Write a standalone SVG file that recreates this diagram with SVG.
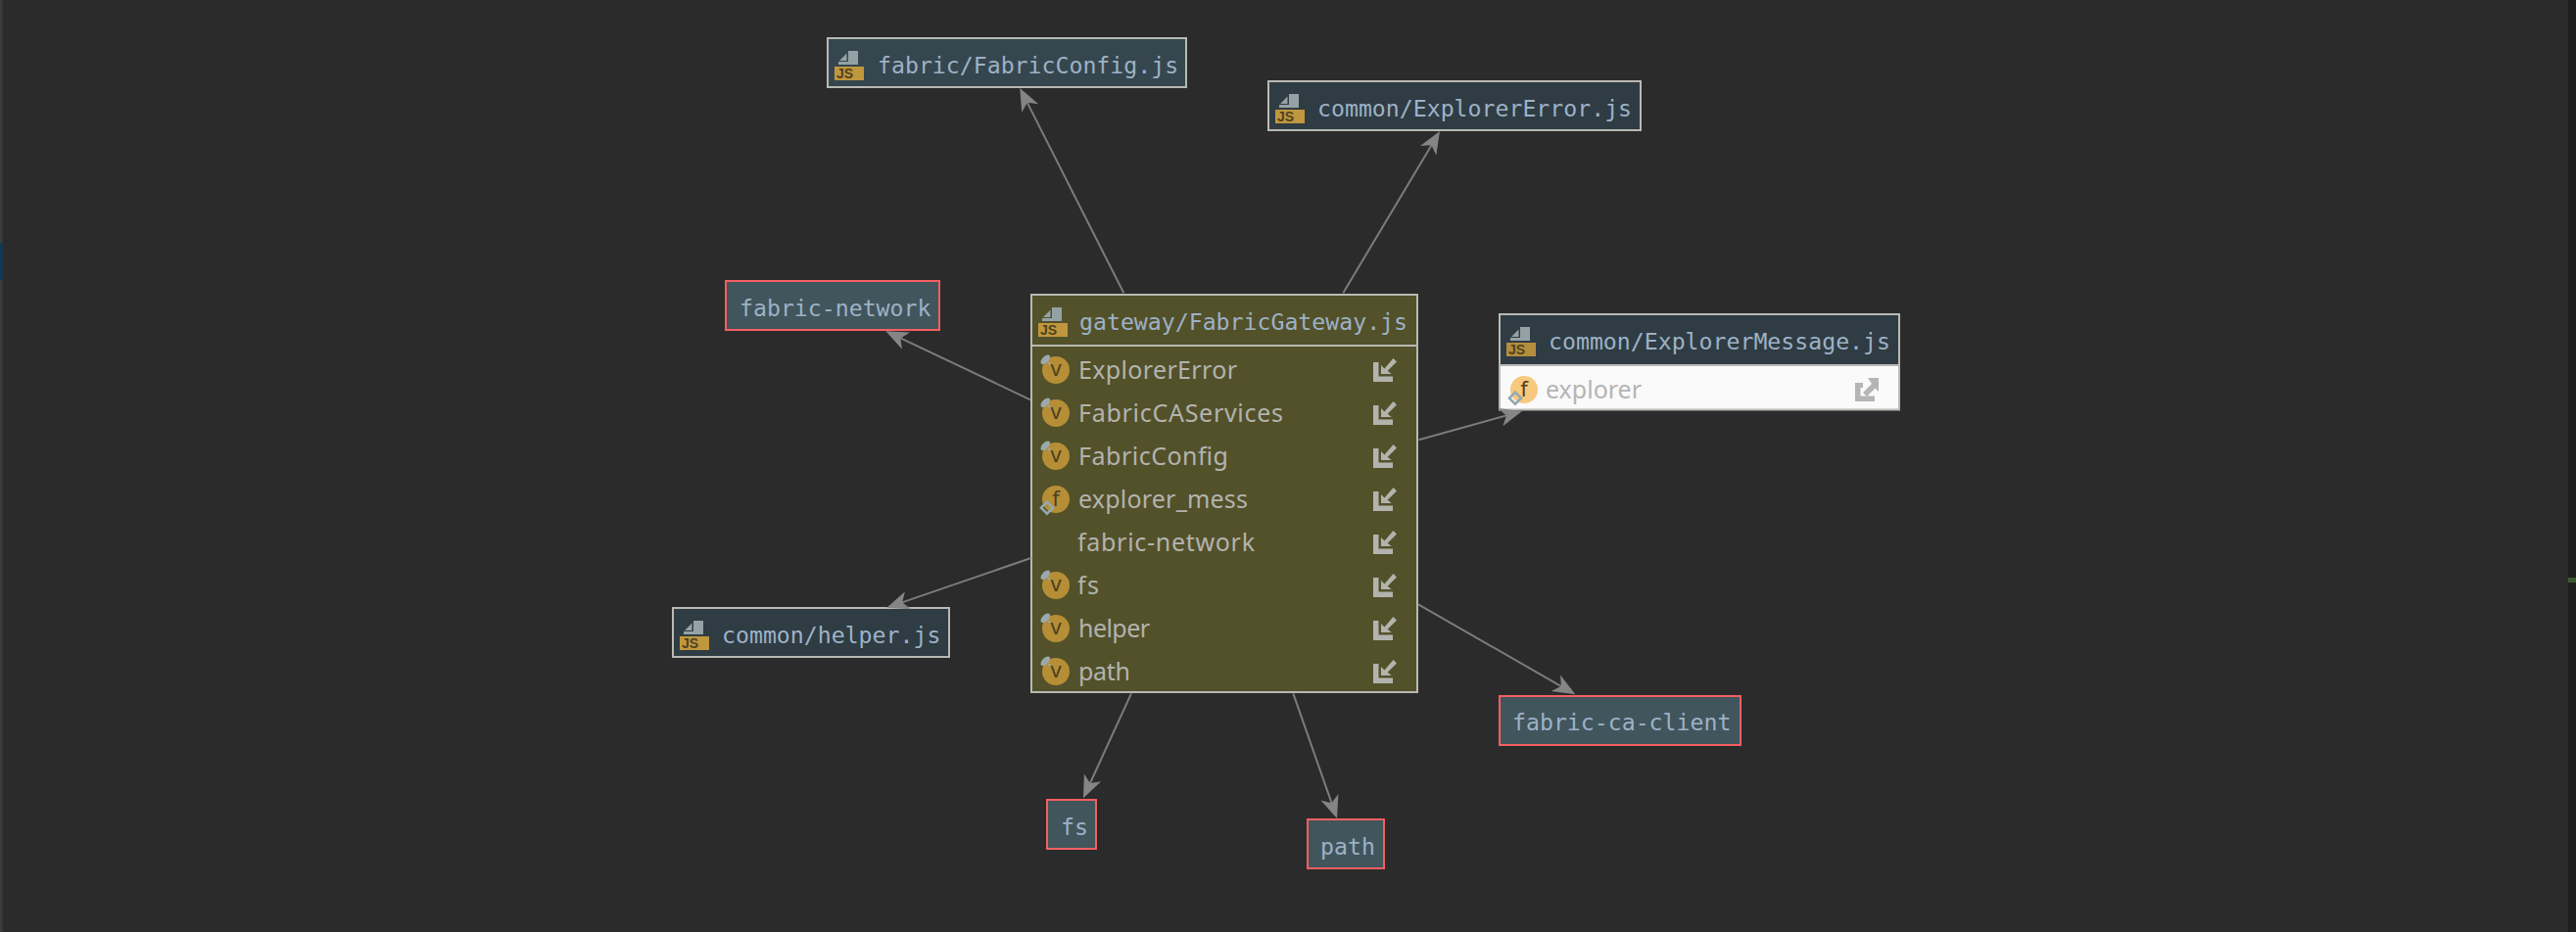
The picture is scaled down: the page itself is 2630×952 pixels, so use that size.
<svg xmlns="http://www.w3.org/2000/svg" xmlns:xlink="http://www.w3.org/1999/xlink" width="2630" height="952" viewBox="0 0 2630 952">
<style>
.box{stroke:#b9b9b4;stroke-width:2}
.lib{fill:#41555c;stroke:#f65f62;stroke-width:2}
.t{font-family:"DejaVu Sans Mono","Liberation Mono",monospace;font-size:23.2px;fill:#9db1c6}
.r{font-family:"Noto Sans","Open Sans",sans-serif;font-size:25px;fill:#b3b3ae}
.js{font-family:"Liberation Sans",Arial,sans-serif;font-size:14px;font-weight:700;fill:#4f4221}
.g{font-family:"Noto Sans","Open Sans",sans-serif;font-size:22px;fill:#4f3f22;text-anchor:middle}
.jb{fill:#c0973d}
.jd{fill:#b58e3d}
.o{fill:#b58e36}
.c{fill:none;stroke:#7c7c7c;stroke-width:2}
.ic{fill:#b3b3ae}
</style>
<defs>
<marker id="arrow" markerUnits="userSpaceOnUse" markerWidth="26" markerHeight="22" refX="16" refY="10.5" orient="auto"><path d="M24,10.5 L1,1 L7.3,10.5 L1,20 Z" fill="#858585"/></marker>
<g id="file"><path d="M10,0H20V14H10Z M0,11H20V14H0Z M1,10L8.5,2.5V10Z" fill="#94a2a6"/></g>
<g id="imp"><path class="ic" d="M0,0H5.5V14.5H20V20H0Z M8,12V3L11.5,6.5L20.5,-4L24,-0.5L14.7,8.7L18.7,12Z"/></g>
<g id="pin"><ellipse cx="-10.7" cy="-10.7" rx="6" ry="3.2" transform="rotate(-45 -10.7 -10.7)" fill="#9aa9ae"/><path d="M-8,-8L-4.5,-4.5" stroke="#9aa9ae" stroke-width="1.5"/></g>
<g id="dia"><path d="M-9,8.7L-3,14.7L-9,20.7L-15,14.7Z" fill="none" stroke="#93a9b2" stroke-width="2.6"/></g>
</defs>
<rect width="2630" height="952" fill="#2b2b2b"/>
<rect x="0" y="0" width="2.5" height="952" fill="#3a3d3f"/>
<rect x="0" y="248" width="2.5" height="38" fill="#0d3a58"/>
<rect x="2622" y="0" width="8" height="952" fill="#1f1f1f"/>
<rect x="2622" y="590" width="8" height="5" fill="#3a5a30"/>

<g id="node-gateway">
<rect class="box" x="1053" y="301" width="394" height="406" fill="#52512a"/>
<path class="box" d="M1053,353H1447" fill="none"/>
<use xlink:href="#file" href="#file" x="1064" y="314"/>
<rect class="jb" x="1060" y="330" width="30" height="14"/>
<text class="js" x="1062" y="342">JS</text>
<text class="t" x="1102" y="337">gateway/FabricGateway.js</text>
<circle class="o" cx="1078" cy="378" r="14"/><use xlink:href="#pin" href="#pin" x="1078" y="378"/><text class="g" x="1078" y="384">v</text>
<text class="r" x="1101" y="387" textLength="162" lengthAdjust="spacing">ExplorerError</text><use xlink:href="#imp" href="#imp" x="1402" y="370"/>
<circle class="o" cx="1078" cy="422" r="14"/><use xlink:href="#pin" href="#pin" x="1078" y="422"/><text class="g" x="1078" y="428">v</text>
<text class="r" x="1101" y="431" textLength="209" lengthAdjust="spacing">FabricCAServices</text><use xlink:href="#imp" href="#imp" x="1402" y="414"/>
<circle class="o" cx="1078" cy="466" r="14"/><use xlink:href="#pin" href="#pin" x="1078" y="466"/><text class="g" x="1078" y="472">v</text>
<text class="r" x="1101" y="475" textLength="153" lengthAdjust="spacing">FabricConfig</text><use xlink:href="#imp" href="#imp" x="1402" y="458"/>
<circle class="o" cx="1078" cy="510" r="14"/><text class="g" x="1078" y="517">f</text><use xlink:href="#dia" href="#dia" x="1078" y="504"/>
<text class="r" x="1101" y="519" textLength="173" lengthAdjust="spacing">explorer_mess</text><use xlink:href="#imp" href="#imp" x="1402" y="502"/>
<text class="r" x="1100" y="563" textLength="181" lengthAdjust="spacing">fabric-network</text><use xlink:href="#imp" href="#imp" x="1402" y="546"/>
<circle class="o" cx="1078" cy="598" r="14"/><use xlink:href="#pin" href="#pin" x="1078" y="598"/><text class="g" x="1078" y="604">v</text>
<text class="r" x="1100" y="607" textLength="22" lengthAdjust="spacing">fs</text><use xlink:href="#imp" href="#imp" x="1402" y="590"/>
<circle class="o" cx="1078" cy="642" r="14"/><use xlink:href="#pin" href="#pin" x="1078" y="642"/><text class="g" x="1078" y="648">v</text>
<text class="r" x="1101" y="651" textLength="73" lengthAdjust="spacing">helper</text><use xlink:href="#imp" href="#imp" x="1402" y="634"/>
<circle class="o" cx="1078" cy="686" r="14"/><use xlink:href="#pin" href="#pin" x="1078" y="686"/><text class="g" x="1078" y="692">v</text>
<text class="r" x="1101" y="695" textLength="53" lengthAdjust="spacing">path</text><use xlink:href="#imp" href="#imp" x="1402" y="678"/>
</g>

<g id="node-explorer-message">
<rect x="1531" y="321" width="408" height="52" fill="#2f3c43"/>
<rect x="1531" y="373" width="408" height="45.5" fill="#fafafa"/>
<rect class="box" x="1531" y="321" width="408" height="97.5" fill="none"/>
<path class="box" d="M1531,373H1939" fill="none"/>
<use xlink:href="#file" href="#file" x="1542" y="334"/>
<rect class="jd" x="1538" y="350" width="30" height="14"/>
<text class="js" x="1540" y="362">JS</text>
<text class="t" x="1581" y="357">common/ExplorerMessage.js</text>
<circle cx="1556" cy="398" r="14" fill="#f6c97f"/><text class="g" x="1556" y="405">f</text><use xlink:href="#dia" href="#dia" x="1556" y="392"/>
<text class="r" x="1578" y="407" textLength="98" lengthAdjust="spacing" style="fill:#b5b5b5">explorer</text>
<path fill="#b5b5b5" d="M1894,391H1902V396H1899.5V404.5H1914V410H1894Z M1918,386V400L1914.5,396.5L1906,405L1902,401L1911,392L1907,386Z"/>
</g>

<g id="node-fabric-config">
<rect class="box" x="845" y="39" width="366" height="50" fill="#36464e"/>
<use xlink:href="#file" href="#file" x="856" y="52"/>
<rect class="jb" x="852" y="68" width="30" height="14"/>
<text class="js" x="854" y="80">JS</text>
<text class="t" x="896" y="75">fabric/FabricConfig.js</text>
</g>

<g id="node-explorer-error">
<rect class="box" x="1295" y="83" width="380" height="50" fill="#2f3c43"/>
<use xlink:href="#file" href="#file" x="1306" y="96"/>
<rect class="jb" x="1302" y="112" width="30" height="14"/>
<text class="js" x="1304" y="124">JS</text>
<text class="t" x="1345" y="119">common/ExplorerError.js</text>
</g>

<g id="node-fabric-network">
<rect class="lib" x="741" y="287" width="218" height="50"/>
<text class="t" x="755" y="322.5">fabric-network</text>
</g>

<g id="node-helper">
<rect class="box" x="687" y="621" width="282" height="50" fill="#2f3c43"/>
<use xlink:href="#file" href="#file" x="698" y="634"/>
<rect class="jb" x="694" y="650" width="30" height="14"/>
<text class="js" x="696" y="662">JS</text>
<text class="t" x="737" y="657">common/helper.js</text>
</g>

<g id="node-fs">
<rect class="lib" x="1069" y="817" width="50" height="50"/>
<text class="t" x="1083" y="852.5">fs</text>
</g>

<g id="node-path">
<rect class="lib" x="1335" y="837" width="78" height="50"/>
<text class="t" x="1348" y="872.5">path</text>
</g>

<g id="node-fabric-ca-client">
<rect class="lib" x="1531" y="711" width="246" height="50"/>
<text class="t" x="1544" y="746">fabric-ca-client</text>
</g>

<g id="connectors">
<path class="c" marker-end="url(#arrow)" d="M1147.3,299.3L1044.9,97.1"/>
<path class="c" marker-end="url(#arrow)" d="M1371.3,299.3L1465.9,140.9"/>
<path class="c" marker-end="url(#arrow)" d="M1052,408.3L911.5,341.7"/>
<path class="c" marker-end="url(#arrow)" d="M1052.7,570L912.9,618.1"/>
<path class="c" marker-end="url(#arrow)" d="M1155,708.3L1109.3,808"/>
<path class="c" marker-end="url(#arrow)" d="M1320.3,708.3L1362.4,828.4"/>
<path class="c" marker-end="url(#arrow)" d="M1448,617.3L1601.4,705.3"/>
<path class="c" marker-end="url(#arrow)" d="M1448.7,449.3L1546.3,422.1"/>
</g>
</svg>
